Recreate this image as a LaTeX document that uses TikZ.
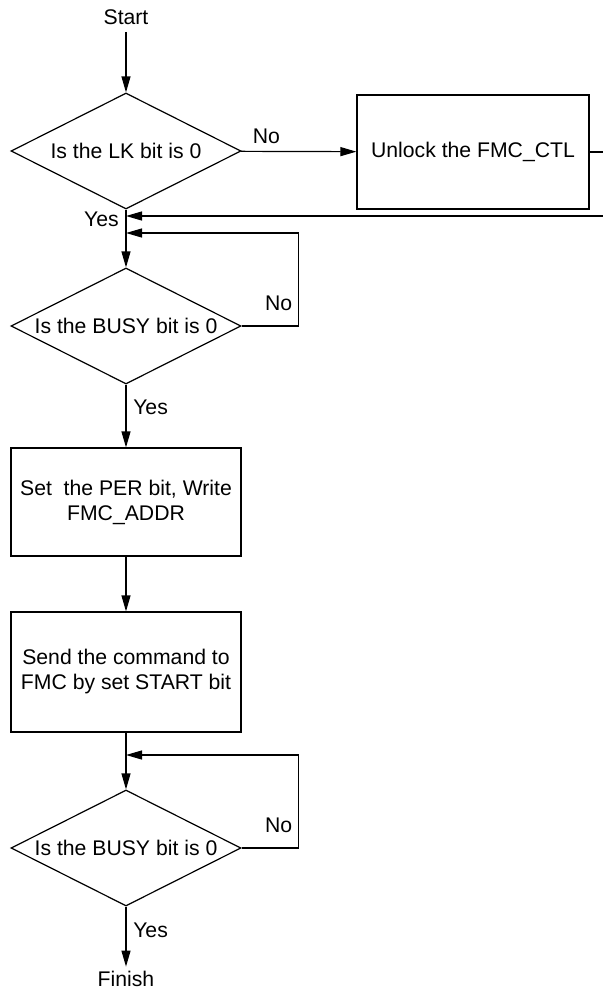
\documentclass[tikz,border=0pt]{standalone}
\usepackage{fontspec}
\setmainfont{Liberation Sans}
\usetikzlibrary{shapes.geometric}
\usetikzlibrary{arrows.meta}

\begin{document}
\begin{tikzpicture}[x=0.5pt, y=-0.5pt, line width=0.6pt,
    font=\fontsize{10.6}{12.5}\selectfont,
    decision/.style={draw, diamond, aspect=2, inner sep=0pt,
        minimum width=115pt, minimum height=58pt},
    process/.style={draw, rectangle, align=center, inner sep=2pt,
        minimum width=115pt},
    flow/.style={-{Triangle[length=8pt,width=4.5pt]}}]
    \useasboundingbox (0,0) rectangle (603,992);

    \node (start) at (126,17) {Start};
    \node[decision] (lk) at (126,151) {Is the LK bit is 0};
    \node[process, minimum width=116pt, minimum height=57pt] (unlock) at (473,152) {Unlock the FMC\_CTL};
    \node[decision] (busyA) at (126,326) {Is the BUSY bit is 0};
    \node[process, minimum height=54pt] (per) at (126,502) {Set\ \ the PER bit, Write\\FMC\_ADDR};
    \node[process, minimum height=60pt] (send) at (126,672) {Send the command to\\FMC by set START bit};
    \node[decision] (busyB) at (126,848) {Is the BUSY bit is 0};
    \node[inner sep=2pt] (finish) at (126,979) {Finish};

    \coordinate (out) at (603,152);
    \coordinate (back) at (603,216);
    \coordinate (joinA) at (126,216);
    \coordinate (joinB) at (126,233);
    \coordinate (joinC) at (126,755);

    \draw[flow] (start) -- (lk);
    \draw[flow] (lk) -- node[above, pos=0.22] {No} (unlock);
    \draw (unlock) -- (out);
    \draw[flow] (back) -- (joinA);
    \draw[flow] (lk) -- node[left, pos=0.17] {Yes} (busyA);

    % wait while busy
    \draw[flow] (busyA.east) -- node[above, yshift=4pt, pos=0.65] {No} ++(57,0) |- (joinB);
    \draw[flow] (busyA) -- node[right, pos=0.36] {Yes} (per);
    \draw[flow] (per) -- (send);
    \draw[flow] (send) -- (busyB);

    \draw[flow] (busyB.east) -- node[above, yshift=4pt, pos=0.65] {No} ++(57,0) |- (joinC);
    \draw[flow] (busyB) -- node[right, pos=0.4] {Yes} (finish);
\end{tikzpicture}
\end{document}
